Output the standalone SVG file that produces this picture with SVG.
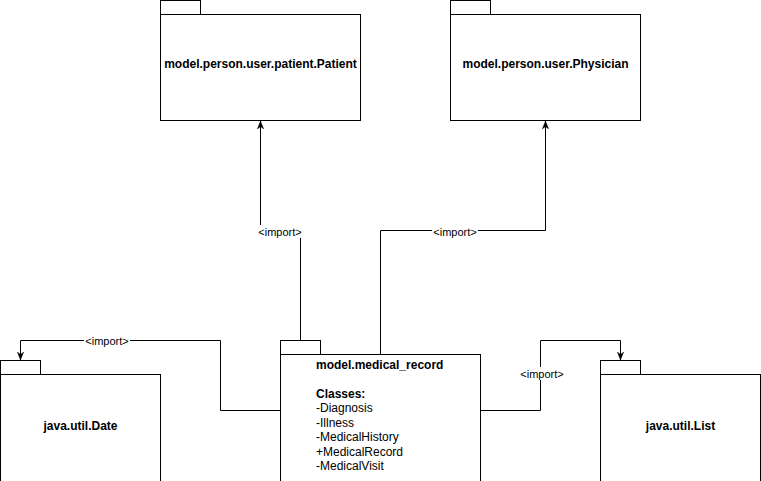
<svg xmlns="http://www.w3.org/2000/svg" width="761" height="481" viewBox="0 0 761 481">
<style>
.pkg{fill:#fff;stroke:#000;stroke-width:1}
.t{font-family:"Liberation Sans",Arial,Helvetica,sans-serif;font-size:12px;fill:#000}
.b{font-weight:bold}
.edge{fill:none;stroke:#000;stroke-width:1}
.lbl{font-family:"Liberation Sans",Arial,Helvetica,sans-serif;font-size:11px;fill:#000;text-anchor:middle}
.lblbg{fill:#fff}
</style>
<defs>
<marker id="arr" markerUnits="userSpaceOnUse" viewBox="0 0 10 10" refX="10" refY="5" markerWidth="8" markerHeight="8" orient="auto">
<path d="M0,1 L10,5 L0,9 L3,5 z" fill="#000" stroke="#000" stroke-width="0.5"/>
</marker>
</defs>
<rect width="761" height="481" fill="#fff"/>
<g id="connectors">
<path class="edge" d="M300.5 340.5 V232.5 H260.5 V121" marker-end="url(#arr)"/>
<path class="edge" d="M380.5 354.5 V230.5 H545.5 V121" marker-end="url(#arr)"/>
<path class="edge" d="M280.5 410.5 H220.5 V340.5 H20.5 V360" marker-end="url(#arr)"/>
<path class="edge" d="M480.5 410.5 H540.5 V340.5 H620.5 V360" marker-end="url(#arr)"/>
<rect class="lblbg" x="257" y="225" width="46" height="13"/>
<text class="lbl" x="280" y="236">&lt;import&gt;</text>
<rect class="lblbg" x="432" y="225" width="46" height="13"/>
<text class="lbl" x="455" y="236">&lt;import&gt;</text>
<rect class="lblbg" x="84" y="334" width="46" height="13"/>
<text class="lbl" x="107" y="345">&lt;import&gt;</text>
<rect class="lblbg" x="519" y="367" width="46" height="13"/>
<text class="lbl" x="542" y="378">&lt;import&gt;</text>
</g>
<g id="patient">
<rect class="pkg" x="160.5" y="0.5" width="40" height="14"/>
<rect class="pkg" x="160.5" y="14.5" width="200" height="106"/>
<text class="t b" x="260.5" y="68" text-anchor="middle">model.person.user.patient.Patient</text>
</g>
<g id="physician">
<rect class="pkg" x="450.5" y="0.5" width="40" height="14"/>
<rect class="pkg" x="450.5" y="14.5" width="190" height="106"/>
<text class="t b" x="545.5" y="68" text-anchor="middle">model.person.user.Physician</text>
</g>
<g id="medical_record">
<rect class="pkg" x="280.5" y="340.5" width="40" height="14"/>
<rect class="pkg" x="280.5" y="354.5" width="200" height="140"/>
<text class="t b" x="316" y="369">model.medical_record</text>
<text class="t b" x="316" y="398">Classes:</text>
<text class="t" x="316" y="412.4">-Diagnosis</text>
<text class="t" x="316" y="426.8">-Illness</text>
<text class="t" x="316" y="441.2">-MedicalHistory</text>
<text class="t" x="316" y="455.6">+MedicalRecord</text>
<text class="t" x="316" y="470">-MedicalVisit</text>
</g>
<g id="date">
<rect class="pkg" x="0.5" y="360.5" width="40" height="14"/>
<rect class="pkg" x="0.5" y="374.5" width="160" height="130"/>
<text class="t b" x="80.5" y="430" text-anchor="middle">java.util.Date</text>
</g>
<g id="list">
<rect class="pkg" x="600.5" y="360.5" width="40" height="14"/>
<rect class="pkg" x="600.5" y="374.5" width="160" height="130"/>
<text class="t b" x="680.5" y="430" text-anchor="middle">java.util.List</text>
</g>
</svg>
